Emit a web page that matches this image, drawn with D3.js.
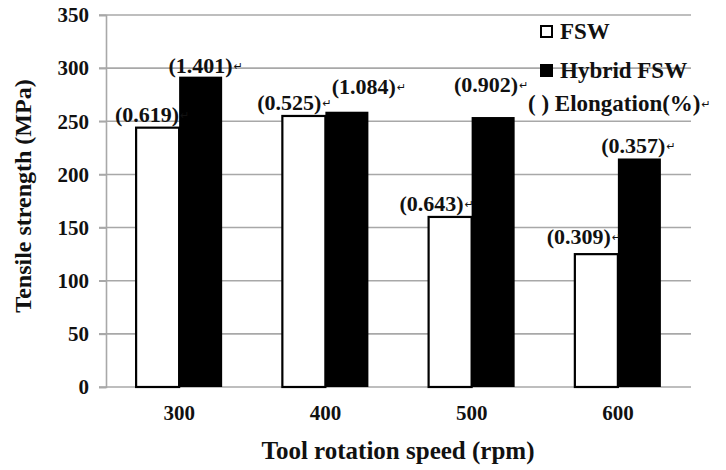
<!DOCTYPE html>
<html>
<head>
<meta charset="utf-8">
<script src="https://cdn.jsdelivr.net/npm/d3@7"></script>
<style>
  body { margin: 0; background: #fff; }
  svg text { font-family: "Liberation Serif", "Times New Roman", serif; font-weight: bold; fill: #111; }
</style>
</head>
<body>
<svg id="chart" width="726" height="470"></svg>
<script>
// Tensile strength (MPa) per tool rotation speed, elongation (%) shown in brackets
const speeds = ["300", "400", "500", "600"];
const fswStrength = [244, 255, 160, 125];
const hybridStrength = [292, 259, 254, 215];
const fswElongation = ["0.619", "0.525", "0.643", "0.309"];
const hybridElongation = ["1.401", "1.084", "0.902", "0.357"];
const yTicks = [0, 50, 100, 150, 200, 250, 300, 350];
const seriesNames = ["FSW", "Hybrid FSW"];

const svg = d3.select("#chart");
const margin = { left: 106, right: 35, top: 15, bottom: 83 };
const W = 726, H = 470;
const plotRight = W - margin.right;
const plotBottom = H - margin.bottom;

const x = d3.scaleBand().domain(speeds).range([margin.left, plotRight]).padding(0);
const xs = d3.scaleBand().domain(seriesNames).range([0, x.bandwidth()])
  .paddingInner(0).paddingOuter(0.7);
const y = d3.scaleLinear().domain([0, 350]).range([plotBottom, margin.top]);

const gridColor = "#a8a8a8";

// horizontal gridlines with short outer ticks
svg.append("g").selectAll("line").data(yTicks.filter(d => d > 0)).join("line")
  .attr("x1", margin.left - 7).attr("x2", plotRight)
  .attr("y1", d => y(d)).attr("y2", d => y(d))
  .attr("stroke", gridColor).attr("stroke-width", 1.6);

// y axis
const yAxis = svg.append("g").attr("transform", `translate(${margin.left},0)`)
  .call(d3.axisLeft(y).tickValues(yTicks).tickSize(7).tickPadding(10));
yAxis.select(".domain").attr("stroke", gridColor).attr("stroke-width", 1.6);
yAxis.selectAll(".tick line").attr("stroke", gridColor).attr("stroke-width", 1.6);
yAxis.selectAll(".tick text").attr("font-size", 21).attr("fill", "#111")
  .style("font-family", "'Liberation Serif', serif").style("font-weight", "bold");

// x axis line (bars sit on top of it)
svg.append("line")
  .attr("x1", margin.left - 7).attr("x2", plotRight)
  .attr("y1", y(0)).attr("y2", y(0))
  .attr("stroke", gridColor).attr("stroke-width", 1.6);

// bars
const rows = speeds.map((s, i) => ({
  speed: s,
  vals: [
    { name: "FSW", v: fswStrength[i], e: fswElongation[i] },
    { name: "Hybrid FSW", v: hybridStrength[i], e: hybridElongation[i] }
  ]
}));

const groups = svg.append("g").selectAll("g").data(rows).join("g")
  .attr("transform", d => `translate(${x(d.speed)},0)`);

groups.selectAll("rect").data(d => d.vals).join("rect")
  .attr("x", d => xs(d.name))
  .attr("width", xs.bandwidth())
  .attr("y", d => y(d.v))
  .attr("height", d => y(0) - y(d.v))
  .attr("fill", d => d.name === "FSW" ? "#fff" : "#000")
  .attr("stroke", "#000")
  .attr("stroke-width", d => d.name === "FSW" ? 2.2 : 0);

// category labels
svg.append("g").selectAll("text").data(speeds).join("text")
  .attr("x", d => x(d) + x.bandwidth() / 2)
  .attr("y", y(0) + 33)
  .attr("text-anchor", "middle")
  .attr("font-size", 21)
  .text(d => d);

// axis titles
svg.append("text")
  .attr("x", 398)
  .attr("y", 459)
  .attr("text-anchor", "middle")
  .attr("font-size", 25)
  .text("Tool rotation speed (rpm)");

svg.append("text")
  .attr("transform", `translate(31,196) rotate(-90)`)
  .attr("text-anchor", "middle")
  .attr("font-size", 24)
  .text("Tensile strength (MPa)");

// elongation labels, hand placed to keep neighbours apart
const hybridNudge = [[0, 2], [17, -12], [-7, -19], [-6, 1]];
const fswNudge = [[0, 0], [-4, 0], [-8, 0], [-7, -4]];
const markColor = "#888";

function addMark(textSel) {
  const bb = textSel.node().getBBox();
  svg.append("text")
    .attr("x", bb.x + bb.width + 1)
    .attr("y", +textSel.attr("y") - 3)
    .attr("font-size", 11)
    .style("font-weight", "normal")
    .style("font-family", "'DejaVu Sans', sans-serif")
    .attr("fill", markColor)
    .text("\u21B5");
}

rows.forEach((r, i) => {
  const fx = x(r.speed) + xs("FSW") + xs.bandwidth();
  const ft = svg.append("text")
    .attr("x", fx + fswNudge[i][0])
    .attr("y", y(r.vals[0].v) - 6 + fswNudge[i][1])
    .attr("text-anchor", "end")
    .attr("font-size", 22)
    .text(`(${r.vals[0].e})`);
  addMark(ft);

  const hx = x(r.speed) + xs("Hybrid FSW") + xs.bandwidth() / 2;
  const ht = svg.append("text")
    .attr("x", hx + hybridNudge[i][0])
    .attr("y", y(r.vals[1].v) - 6 + hybridNudge[i][1])
    .attr("text-anchor", "middle")
    .attr("font-size", 22)
    .text(`(${r.vals[1].e})`);
  addMark(ht);
});

// legend
const legend = svg.append("g");
const legendRows = [
  { label: "FSW", fill: "#fff", y: 39 },
  { label: "Hybrid FSW", fill: "#000", y: 78 }
];
legendRows.forEach(d => {
  legend.append("rect")
    .attr("x", 541).attr("y", d.y - 13)
    .attr("width", 11).attr("height", 11)
    .attr("fill", d.fill).attr("stroke", "#000").attr("stroke-width", 2);
  legend.append("text")
    .attr("x", 560).attr("y", d.y)
    .attr("font-size", 23)
    .text(d.label);
});
const el = legend.append("text")
  .attr("x", 528).attr("y", 111)
  .attr("font-size", 23)
  .text("( ) Elongation(%)");
addMark(el);
</script>
</body>
</html>
